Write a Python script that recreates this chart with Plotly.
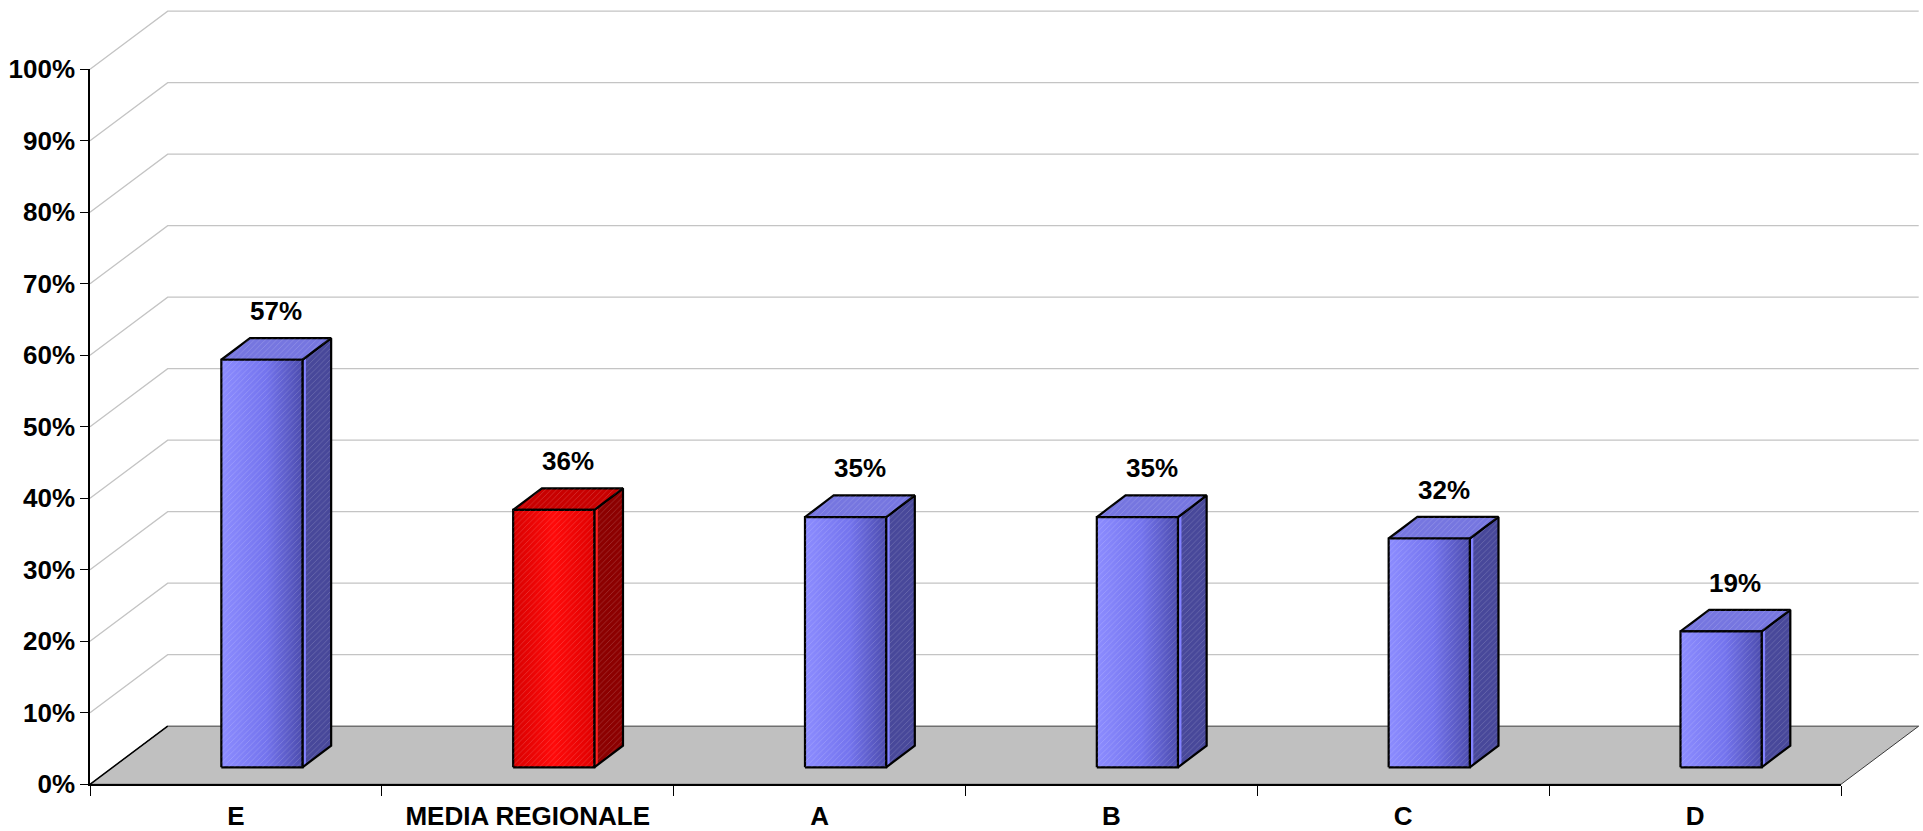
import plotly.graph_objects as go

# ---------------- data ----------------
categories = ["E", "MEDIA REGIONALE", "A", "B", "C", "D"]
values = [57, 36, 35, 35, 32, 19]
is_regional = [False, True, False, False, False, False]
y_ticks = [0, 10, 20, 30, 40, 50, 60, 70, 80, 90, 100]
y_tick_labels = [f"{t}%" for t in y_ticks]
label_texts = [f"{v}%" for v in values]

# ---------------- geometry (style) ----------------
W_PX, H_PX = 1923, 831
AX_LEFT_PX, AX_RIGHT_PX = 90, 1841
AX_ZERO_PX, AX_TOP_PX = 784.3, 69.3
N = len(categories)
cat_px = (AX_RIGHT_PX - AX_LEFT_PX) / N
pct_px = (AX_ZERO_PX - AX_TOP_PX) / 100.0

DX = 77.7 / cat_px          # depth of the floor, in category units
DY = 58.15 / pct_px         # depth of the floor, in percent units
BAR_LEFT = 0.45             # front-face left edge inside a category
BAR_W = 0.278               # front-face width
BAR_Y0 = 17.0 / pct_px      # front-face base above the front 0% line
BAR_DX = 28.7 / cat_px      # bar depth (horizontal)
BAR_DY = 21.6 / pct_px      # bar depth (vertical)
STRIPE = 3.5 / cat_px       # light stripe at the left of the side face

FONT = "Liberation Sans, Arial, sans-serif"

BLUE = dict(front=[[0, "#8c8cff"], [0.55, "#7474ee"], [1, "#4c4cae"]],
            side="#48489a", top="#7676e0", stripe="#8282ff")
RED = dict(front=[[0, "#d80000"], [0.5, "#ff0a0a"], [1, "#e00000"]],
           side="#8c0000", top="#c80000", stripe="#ff2020")

fig = go.Figure()

def poly(xs, ys, fillcolor=None, gradient=None, line_color="black", line_width=1.0,
         pattern=False):
    kw = dict(x=xs + [xs[0]], y=ys + [ys[0]], mode="lines", fill="toself",
              line=dict(color=line_color, width=line_width),
              hoverinfo="skip", showlegend=False, xaxis="x", yaxis="y")
    if gradient is not None:
        kw["fillgradient"] = dict(type="horizontal", colorscale=gradient)
    else:
        kw["fillcolor"] = fillcolor
    fig.add_trace(go.Scatter(**kw))
    if pattern:
        fig.add_trace(go.Scatter(
            x=xs + [xs[0]], y=ys + [ys[0]], mode="lines", fill="toself",
            line=dict(width=0), fillcolor="rgba(0,0,0,0)",
            fillpattern=dict(shape="/", size=4, solidity=0.18,
                             fgcolor="rgba(255,255,255,0.22)", bgcolor="rgba(0,0,0,0)"),
            hoverinfo="skip", showlegend=False, xaxis="x", yaxis="y"))

def line(xs, ys, color, width):
    fig.add_trace(go.Scatter(x=xs, y=ys, mode="lines",
                             line=dict(color=color, width=width),
                             hoverinfo="skip", showlegend=False,
                             xaxis="x", yaxis="y"))

# floor
poly([0, N, N + DX, DX], [0, 0, DY, DY], fillcolor="#c0c0c0",
     line_color="#3a3a3a", line_width=1.0)
line([0, DX], [0, DY], "black", 1.5)

# back-wall / side-wall gridlines
for t in y_ticks[1:]:
    line([0, DX, N + DX], [t, t + DY, t + DY], "#c4c4c4", 1.3)

# bars
for i, (v, reg) in enumerate(zip(values, is_regional)):
    c = RED if reg else BLUE
    L = i + BAR_LEFT
    R = L + BAR_W
    y0 = BAR_Y0
    y1 = BAR_Y0 + v
    sdy = STRIPE * BAR_DY / BAR_DX
    # side face (with a light stripe next to the front edge)
    poly([R, R + BAR_DX, R + BAR_DX, R], [y0, y0 + BAR_DY, y1 + BAR_DY, y1],
         fillcolor=c["side"], line_width=0, pattern=True)
    poly([R, R + STRIPE, R + STRIPE, R], [y0, y0 + sdy, y1 + sdy, y1],
         fillcolor=c["stripe"], line_width=0)
    poly([R, R + BAR_DX, R + BAR_DX, R], [y0, y0 + BAR_DY, y1 + BAR_DY, y1],
         fillcolor="rgba(0,0,0,0)", line_width=2.2)
    # top face
    poly([L, R, R + BAR_DX, L + BAR_DX], [y1, y1, y1 + BAR_DY, y1 + BAR_DY],
         fillcolor=c["top"], line_width=2.2, pattern=True)
    # front face
    poly([L, R, R, L], [y0, y0, y1, y1], gradient=c["front"], line_width=2.2,
         pattern=True)

# data labels
for i, (v, txt) in enumerate(zip(values, label_texts)):
    cx = i + BAR_LEFT + BAR_W / 2 + BAR_DX / 2
    fig.add_annotation(x=cx, y=BAR_Y0 + v + BAR_DY, xref="x", yref="y",
                       text=txt, showarrow=False, yshift=27,
                       font=dict(family=FONT, size=26, color="black", weight="bold"))

# visible axes (second subplot aligned to the front plane)
fig.add_trace(go.Scatter(x=categories, y=values, mode="markers",
                         marker=dict(opacity=0), hoverinfo="skip",
                         showlegend=False, xaxis="x2", yaxis="y2"))

fig.update_layout(
    template="none",
    width=W_PX, height=H_PX,
    margin=dict(l=0, r=0, t=0, b=0, pad=0, autoexpand=False),
    paper_bgcolor="white", plot_bgcolor="rgba(0,0,0,0)",
    showlegend=False,
    xaxis=dict(domain=[0, 1], range=[-AX_LEFT_PX / cat_px, (W_PX - AX_LEFT_PX) / cat_px],
               visible=False, fixedrange=True, automargin=False),
    yaxis=dict(domain=[0, 1], range=[-(H_PX - AX_ZERO_PX) / pct_px, AX_ZERO_PX / pct_px],
               visible=False, fixedrange=True, automargin=False),
    xaxis2=dict(domain=[AX_LEFT_PX / W_PX, AX_RIGHT_PX / W_PX], anchor="y2",
                type="category", categoryorder="array", categoryarray=categories,
                range=[-0.5, N - 0.5], tickson="boundaries", automargin=False,
                showline=True, linecolor="black", linewidth=1.5,
                ticks="outside", ticklen=10, tickwidth=1, tickcolor="black",
                ticklabelstandoff=8,
                showgrid=False, zeroline=False,
                tickfont=dict(family=FONT, size=26, color="black", weight="bold"),
                fixedrange=True),
    yaxis2=dict(domain=[(H_PX - AX_ZERO_PX) / H_PX, (H_PX - AX_TOP_PX) / H_PX], anchor="x2",
                range=[0, 100], tickvals=y_ticks, ticktext=y_tick_labels, automargin=False,
                showline=True, linecolor="black", linewidth=1.5,
                ticks="outside", ticklen=8, tickwidth=1, tickcolor="black",
                showgrid=False, zeroline=False,
                tickfont=dict(family=FONT, size=26, color="black", weight="bold"),
                fixedrange=True),
)

fig.write_html("out.html", config={"displayModeBar": False})
